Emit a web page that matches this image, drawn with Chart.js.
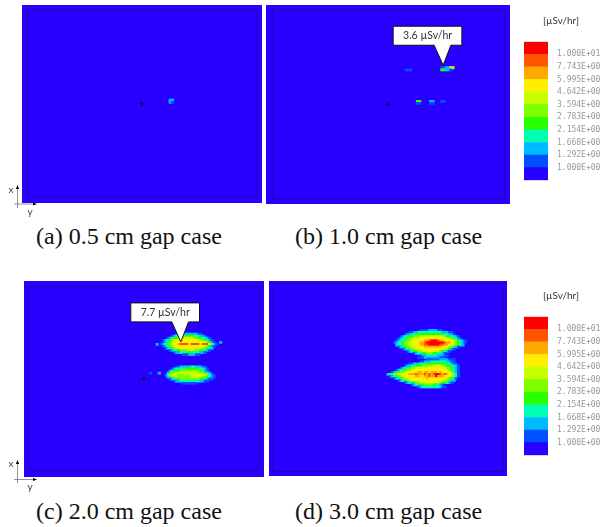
<!DOCTYPE html>
<html>
<head>
<meta charset="utf-8">
<title>Dose rate maps</title>
<script src="https://cdn.jsdelivr.net/npm/chart.js@4"></script>
<style>
    html, body { margin: 0; padding: 0; background: #fff; }
    body { width: 602px; height: 527px; position: relative; overflow: hidden; }
    .box { position: absolute; }
    .box canvas { filter: blur(0.45px); }
    .cap { position: absolute; font: 24px "Liberation Serif", serif; color: #111; white-space: nowrap; line-height: 28px; }
    .unit { position: absolute; font: 10px "Lato", sans-serif; color: #333; white-space: nowrap; filter: blur(0.3px); }
    svg { position: absolute; left: 0; top: 0; filter: blur(0.3px); }
</style>
</head>
<body>
<div class="box" style="left:22px;top:5px;width:240px;height:198px"><canvas id="mapA"></canvas></div>
<div class="box" style="left:266px;top:5px;width:244px;height:199px"><canvas id="mapB"></canvas></div>
<div class="box" style="left:24px;top:281px;width:240px;height:196px"><canvas id="mapC"></canvas></div>
<div class="box" style="left:269px;top:281px;width:238px;height:195px"><canvas id="mapD"></canvas></div>
<div class="box" style="left:524px;top:41px;width:78px;height:140px"><canvas id="barTop"></canvas></div>
<div class="box" style="left:524px;top:316px;width:78px;height:140px"><canvas id="barBottom"></canvas></div>

<div class="unit" style="left:543px;top:14px">[µSv/hr]</div>
<div class="unit" style="left:543px;top:289px">[µSv/hr]</div>

<div class="cap" style="left:36px;top:222px">(a) 0.5 cm gap case</div>
<div class="cap" style="left:295px;top:222px">(b) 1.0 cm gap case</div>
<div class="cap" style="left:36px;top:497px">(c) 2.0 cm gap case</div>
<div class="cap" style="left:295px;top:497px">(d) 3.0 cm gap case</div>

<svg width="602" height="527" font-family="Lato, sans-serif" font-size="10" fill="#444">
    <g stroke="#777" stroke-width="0.8">
        <line x1="17.5" y1="208" x2="17.5" y2="187"></line>
        <line x1="14" y1="204" x2="35" y2="204"></line>
        <line x1="17.5" y1="483" x2="17.5" y2="462"></line>
        <line x1="14" y1="479.5" x2="35" y2="479.5"></line>
    </g>
    <path d="M17.5 185l-1.6 4h3.2zM37 204l-4-1.6v3.2zM17.5 460l-1.6 4h3.2zM37 479.5l-4-1.6v3.2z" fill="#000"></path>
    <text x="8.5" y="193">x</text>
    <text x="27.5" y="215">y</text>
    <text x="8.5" y="467">x</text>
    <text x="27.5" y="490">y</text>
</svg>

<script>
// colour bands of the legend, lowest first
const levelColors = ['#2800ff', '#0050ff', '#00baff', '#00ffb4', '#28ff00', '#7dff00', '#c8ff00', '#ffee00', '#ffaa00', '#ff5500', '#ff0000']
const legendLabels = ['1.000E+00', '1.292E+00', '1.668E+00', '2.154E+00', '2.783E+00', '3.594E+00', '4.642E+00', '5.995E+00', '7.743E+00', '1.000E+01']

// grid of every map
const gridCols = 105
const gridRows = 90

// map cells: [row, first column, band of each cell]
const cellsA = [
    [43, 65, "22"],
    [44, 65, "21"]
]

const cellsB = [
    [28, 60, "111"],
    [27, 76, "112266"],
    [28, 76, "44221"],
    [43, 65, "44"],
    [44, 65, "11"],
    [43, 71, "22"],
    [44, 71, "11"],
    [43, 76, "11"]
]

const cellsC = [
    [23, 67, "112222222211"],
    [24, 65, "1233444444433221"],
    [25, 63, "12344555666655443321"],
    [26, 61, "12345667777777766554321"],
    [27, 61, "123456777777777777765421"],
    [28, 60, "12345677899997999979997531"],
    [29, 61, "123456777777777777765421"],
    [30, 62, "1234566777777666655432"],
    [31, 64, "1234455566665544321"],
    [32, 66, "122333444333221"],
    [33, 70, "11122211"],
    [28, 58, "2"],
    [27, 87, "2"],
    [39, 67, "11222223322211"],
    [40, 65, "12333344444443321"],
    [41, 64, "234445555555554321"],
    [42, 63, "24556666666666555432"],
    [43, 62, "13677655565666777765321"],
    [44, 63, "2355655555566666554321"],
    [45, 64, "12344555555555443211"],
    [46, 66, "1223333333332211"],
    [47, 70, "1111111"],
    [42, 55, "1"],
    [42, 59, "2"]
]

const cellsD = [
    [22, 67, "1111222211"],
    [23, 62, "11223333333333322211"],
    [24, 60, "12233444444444444433221"],
    [25, 58, "123344555666666666665443321"],
    [26, 57, "12334556667777777777766554321"],
    [27, 56, "1233455667777889aaa9887777654321"],
    [28, 55, "123345566777889aaaaaaaa9887654321"],
    [29, 56, "233455667778899aaaaa99887765432"],
    [30, 57, "1234556677778888888877765321"],
    [31, 59, "123455667777777777665421"],
    [32, 61, "12344556667776654321"],
    [33, 64, "123344555443321"],
    [34, 67, "1223333322211"],
    [35, 66, "1112222222111"],
    [36, 70, "1111112222111"],
    [37, 67, "1122233333332211"],
    [38, 62, "1122233344444444433211"],
    [39, 60, "1223344455555666655443321"],
    [40, 58, "123345566666777777766554321"],
    [41, 56, "12334556677777777777777654321"],
    [42, 54, "1234556677778878878887877765321"],
    [43, 52, "2345566777888988898989aa989877531"],
    [44, 53, "123455667777887788988a8887776531"],
    [45, 55, "12345667777777787777777765431"],
    [46, 57, "12345667777777777777665432"],
    [47, 60, "1233455666677766554321"],
    [48, 63, "123344555544321"],
    [49, 66, "1233333333211"]
]

// small black crosses (column, row)
const crossA = [{ x: 52.4, y: 45.2 }]
const crossB = [{ x: 52.3, y: 44.9 }]
const crossC = [{ x: 52.5, y: 45.3 }]

// callouts, tip given in grid units
const calloutB = { text: "3.6 µSv/hr", x: 77.1, y: 26.3 }
const calloutC = { text: "7.7 µSv/hr", x: 69.3, y: 27.3 }

function cellBars(cells) {
    // one floating bar for each grid cell, one colour per bar
    let data = []
    let colors = []
    cells.forEach(function (line) {
        let row = line[0]
        let col = line[1]
        let bands = line[2]
        for (let i = 0; i < bands.length; i++) {
            let band = parseInt(bands[i], 16)
            data.push({ x: col + i + 0.5, y: [row, row + 1] })
            colors.push(levelColors[band])
        }
    })
    return { data: data, colors: colors }
}

const framePlugin = {
    id: 'frame',
    beforeDraw: function (chart) {
        let c = chart.ctx
        c.save()
        c.fillStyle = levelColors[0]
        c.fillRect(0, 0, chart.width, chart.height)
        c.restore()
    },
    beforeDatasetsDraw: function (chart) {
        let a = chart.chartArea
        let c = chart.ctx
        c.save()
        c.strokeStyle = '#1e0a8c'
        c.lineWidth = 0.8
        c.strokeRect(a.left, a.top, a.right - a.left, a.bottom - a.top)
        c.restore()
    },
    afterDraw: function (chart, args, opts) {
        if (!opts.callout) return
        let c = chart.ctx
        let tipX = chart.scales.x.getPixelForValue(opts.callout.x)
        let tipY = chart.scales.y.getPixelForValue(opts.callout.y)
        c.save()
        c.beginPath()
        c.moveTo(tipX - 50, tipY - 39)
        c.lineTo(tipX + 18.7, tipY - 39)
        c.lineTo(tipX + 18.7, tipY - 20)
        c.lineTo(tipX + 7.7, tipY - 20)
        c.lineTo(tipX, tipY)
        c.lineTo(tipX - 9, tipY - 20)
        c.lineTo(tipX - 50, tipY - 20)
        c.closePath()
        c.fillStyle = '#fff'
        c.fill()
        c.strokeStyle = '#111'
        c.lineWidth = 1
        c.stroke()
        c.fillStyle = '#333'
        c.font = '10.5px Lato, sans-serif'
        c.textAlign = 'center'
        c.textBaseline = 'middle'
        c.fillText(opts.callout.text, tipX - 15.6, tipY - 29.5)
        c.restore()
    }
}

function drawMap(id, cells, cross, callout, padding) {
    let bars = cellBars(cells)
    let datasets = [{
        type: 'bar',
        data: bars.data,
        backgroundColor: bars.colors,
        barThickness: 2.5,
        borderWidth: 0,
        order: 2
    }]
    if (cross) {
        datasets.push({
            type: 'scatter',
            data: cross,
            pointStyle: 'cross',
            pointRadius: 2.5,
            borderColor: '#0a0630',
            borderWidth: 1,
            order: 1
        })
    }
    new Chart(document.getElementById(id).getContext('2d'), {
        type: 'bar',
        data: { datasets: datasets },
        options: {
            responsive: true,
            maintainAspectRatio: false,
            animation: false,
            layout: { padding: padding },
            plugins: {
                legend: { display: false },
                tooltip: { enabled: false },
                frame: { callout: callout }
            },
            scales: {
                x: { type: 'linear', display: false, offset: false, min: 0, max: gridCols },
                y: { type: 'linear', display: false, min: 0, max: gridRows, reverse: true }
            }
        },
        plugins: [framePlugin]
    })
}

function drawLegend(id) {
    let datasets = levelColors.map(function (color, i) {
        return { data: [[i, i + 1]], backgroundColor: color, borderWidth: 0, grouped: false, barPercentage: 1, categoryPercentage: 1 }
    })
    new Chart(document.getElementById(id).getContext('2d'), {
        type: 'bar',
        data: { labels: [''], datasets: datasets },
        options: {
            responsive: true,
            maintainAspectRatio: false,
            animation: false,
            layout: { padding: { top: 0.7, bottom: 0.7 } },
            plugins: { legend: { display: false }, tooltip: { enabled: false } },
            scales: {
                x: { display: false },
                y: {
                    position: 'right',
                    min: 0,
                    max: levelColors.length,
                    grid: { display: false, drawTicks: false },
                    border: { display: false },
                    afterFit: function (scale) {
                        scale.width = 54
                        scale.paddingTop = 0
                        scale.paddingBottom = 0
                    },
                    ticks: {
                        stepSize: 1,
                        autoSkip: false,
                        padding: 9,
                        color: '#999',
                        font: { family: '"DejaVu Sans Mono", monospace', size: 8 },
                        callback: function (value) {
                            return legendLabels[value - 1] || ''
                        }
                    }
                }
            }
        }
    })
}

drawMap('mapA', cellsA, crossA, null, { left: 3.3, top: 3, right: 5.3, bottom: 6.3 })
drawMap('mapB', cellsB, crossB, calloutB, { left: 6.3, top: 4.3, right: 4, bottom: 4.3 })
drawMap('mapC', cellsC, crossC, calloutC, { left: 4.3, top: 2.3, right: 4.3, bottom: 6.7 })
drawMap('mapD', cellsD, null, null, { left: 3.3, top: 2.3, right: 3.3, bottom: 4.3 })
drawLegend('barTop')
drawLegend('barBottom')
</script>
</body>
</html>
